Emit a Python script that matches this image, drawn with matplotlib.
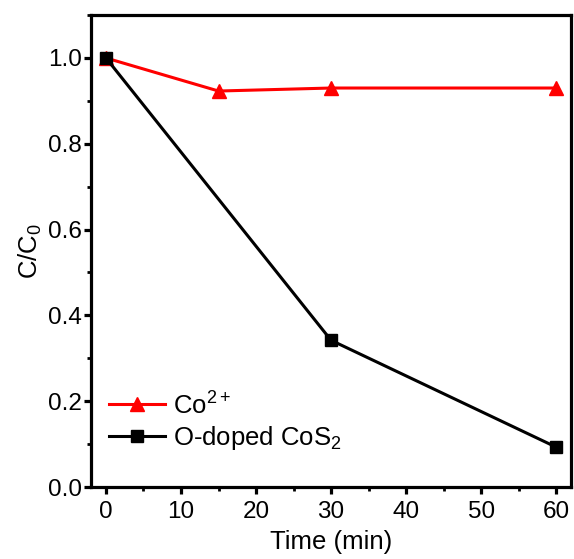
import matplotlib
matplotlib.use('Agg')
from matplotlib import pyplot as plt
from matplotlib.ticker import MultipleLocator, FormatStrFormatter

plt.rcParams['font.family'] = ['Liberation Sans', 'DejaVu Sans']
plt.rcParams['mathtext.fontset'] = 'custom'
plt.rcParams['mathtext.rm'] = 'Liberation Sans'

# data
time = [0, 15, 30, 60]
co_ion = [1.0, 0.923, 0.930, 0.930]
time_cos2 = [0, 30, 60]
cos2 = [1.0, 0.342, 0.093]

fig = plt.figure(figsize=(5.74, 5.59), dpi=100)
ax = fig.add_axes([0.1585, 0.1288, 0.8365, 0.8442])

ax.plot(time, co_ion, color='red', lw=2.2, marker='^', ms=10,
        label='Co$^{2+}$')
ax.plot(time_cos2, cos2, color='black', lw=2.2, marker='s', ms=8,
        label='O-doped CoS$_2$')

ax.set_xlim(-2, 62)
ax.set_ylim(0, 1.1)
ax.xaxis.set_major_locator(MultipleLocator(10))
ax.xaxis.set_minor_locator(MultipleLocator(5))
ax.yaxis.set_major_locator(MultipleLocator(0.2))
ax.yaxis.set_minor_locator(MultipleLocator(0.1))
ax.yaxis.set_major_formatter(FormatStrFormatter('%.1f'))

for s in ax.spines.values():
    s.set_linewidth(2.3)
ax.tick_params(which='major', direction='out', length=5, width=2.3,
               labelsize=17.5)
ax.tick_params(axis='y', which='major', pad=1.5)
ax.tick_params(axis='x', which='major', pad=5)
ax.tick_params(which='minor', direction='out', length=3, width=2)

ax.set_xlabel('Time (min)', fontsize=18.5, labelpad=5)
ax.set_ylabel('C/C$_0$', fontsize=18.5, labelpad=3)

ax.legend(loc='lower left', bbox_to_anchor=(0.0, 0.037), frameon=False,
          fontsize=18.5, handlelength=2.2, handletextpad=0.3,
          labelspacing=0.2, borderaxespad=0.3)

fig.savefig('out.png', dpi=100)
